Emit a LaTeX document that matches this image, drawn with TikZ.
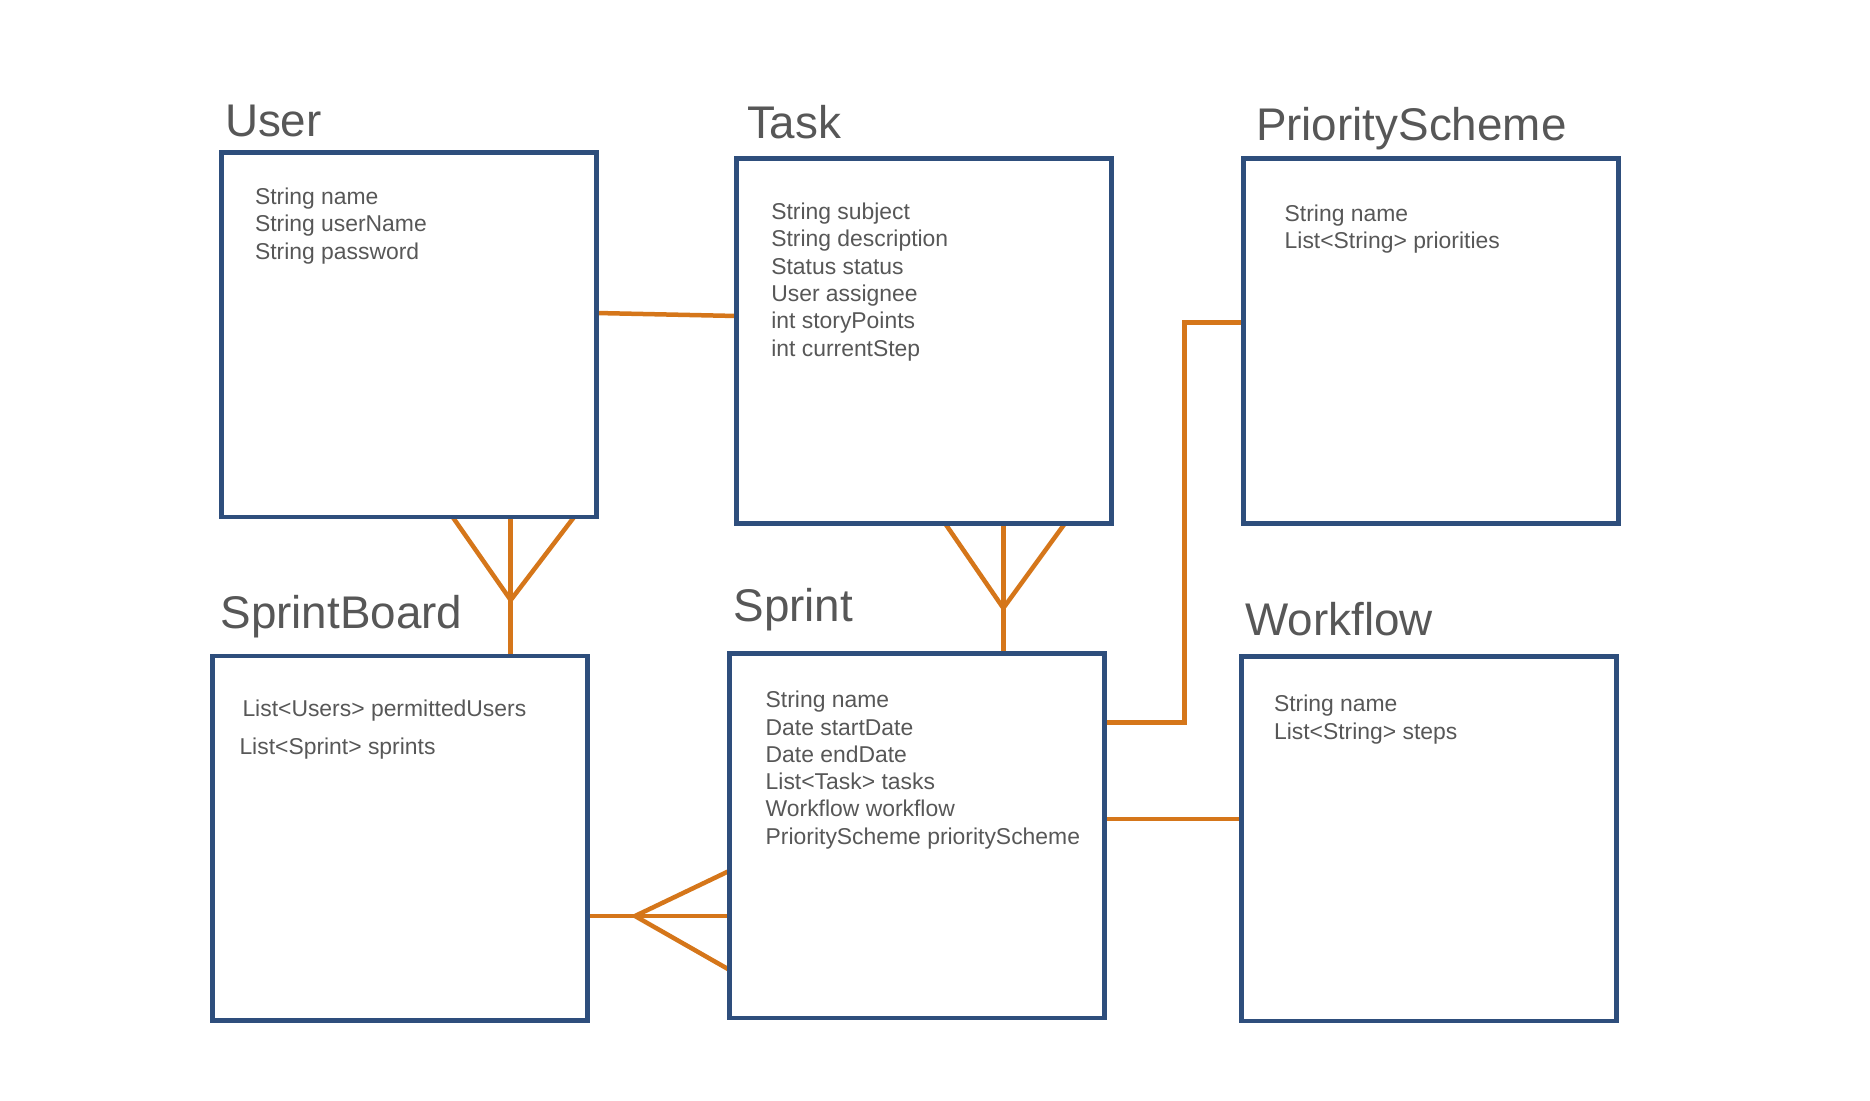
\documentclass[tikz,border=0pt]{standalone}
\usepackage{fontspec}
\setmainfont{Liberation Sans}
\usetikzlibrary{calc,backgrounds}
\definecolor{boxblue}{HTML}{2E4E7C}
\definecolor{linkorange}{HTML}{D5761A}
\definecolor{textgray}{HTML}{575757}
\tikzset{
  entity/.style={draw=boxblue, line width=4.7pt, inner sep=0pt, outer sep=0pt,
    minimum width=374.8pt, minimum height=364.6pt, anchor=north west},
  title/.style={inner sep=0pt, outer sep=0pt, anchor=base west, text=textgray,
    font=\fontsize{45.8}{54}\selectfont},
  attr/.style={inner sep=0pt, outer sep=0pt, anchor=base west, text=textgray,
    font=\fontsize{22.9}{27.4}\selectfont},
  link/.style={draw=linkorange, line width=4.5pt}
}
\begin{document}
\begin{tikzpicture}[x=1pt,y=-1pt]
\useasboundingbox (0,0) rectangle (1870,1100);
% boxes
\node[entity] (user) at (221.7,152.5) {};
\node[entity] (task) at (736.7,158.7) {};
\node[entity] (ps) at (1243.7,158.7) {};
\node[entity] (sb) at (212.5,656) {};
\node[entity] (sprint) at (729.7,653.5) {};
\node[entity] (wf) at (1241.7,656.5) {};
% titles
\node[title] (userT) at (225,136) {User};
\node[title] (taskT) at (747,138) {Task};
\node[title] (psT) at (1256,140) {PriorityScheme};
\node[title] (sbT) at (220.5,628.3) {SprintBoard};
\node[title] (sprintT) at (733.5,621.7) {Sprint};
\node[title] (wfT) at (1245.5,635) {Workflow};
% attributes
\foreach \t [count=\i] in {String name, String userName, String password}
  \node[attr] (userA\i) at (255,{204+27.6*(\i-1)}) {\t};
\foreach \t [count=\i] in {String subject, String description, Status status, User assignee, int storyPoints, int currentStep}
  \node[attr] (taskA\i) at (771.3,{219.3+27.4*(\i-1)}) {\t};
\foreach \t [count=\i] in {String name, List<String> priorities}
  \node[attr] (psA\i) at (1284.7,{221.3+27*(\i-1)}) {\t};
\node[attr] (sbA1) at (242.5,716.7) {List<Users> permittedUsers};
\node[attr] (sbA2) at (239.5,754) {List<Sprint> sprints};
\foreach \t [count=\i] in {String name, Date startDate, Date endDate, List<Task> tasks, Workflow workflow, PriorityScheme priorityScheme}
  \node[attr] (sprintA\i) at (765.7,{707.7+27.3*(\i-1)}) {\t};
\foreach \t [count=\i] in {String name, List<String> steps}
  \node[attr] (wfA\i) at (1274,{711.7+27.6*(\i-1)}) {\t};
% connectors
\begin{scope}[on background layer]
  % User -- Task
  \draw[link] ($(user.north east)+(0,160.5)$) -- ($(task.north west)+(0,157.3)$);
  % User -< SprintBoard
  \coordinate (uj) at ($(user.south west)+(289,83)$);
  \draw[link] ($(user.south west)+(289,0)$) -- (uj |- sb.north);
  \draw[link] ($(user.south west)+(231,0)$) -- (uj) -- ($(user.south west)+(352.3,0)$);
  % Task -< Sprint
  \coordinate (tj) at ($(task.south west)+(266.6,84.8)$);
  \draw[link] ($(task.south west)+(266.6,0)$) -- (tj |- sprint.north);
  \draw[link] ($(task.south west)+(208.3,0)$) -- (tj) -- ($(task.south west)+(328.3,0)$);
  % SprintBoard >- Sprint
  \coordinate (sj) at ($(sprint.north west)+(-94.7,262.5)$);
  \draw[link] ($(sprint.north west)+(0,262.5)$) -- (sj -| sb.east);
  \draw[link] ($(sprint.north west)+(0,217.2)$) -- (sj) -- ($(sprint.north west)+(0,316.5)$);
  % Sprint -- PriorityScheme (elbow)
  \coordinate (pe) at ($(sprint.north east)+(79.8,68.8)$);
  \draw[link] ($(sprint.north east)+(0,68.8)$) -- (pe) -- (pe |- {$(ps.north west)+(0,163.6)$}) -- ($(ps.north west)+(0,163.6)$);
  % Sprint -- Workflow
  \draw[link] ($(sprint.north east)+(0,165.5)$) -- ($(wf.north west)+(0,162.5)$);
\end{scope}
\end{tikzpicture}
\end{document}
